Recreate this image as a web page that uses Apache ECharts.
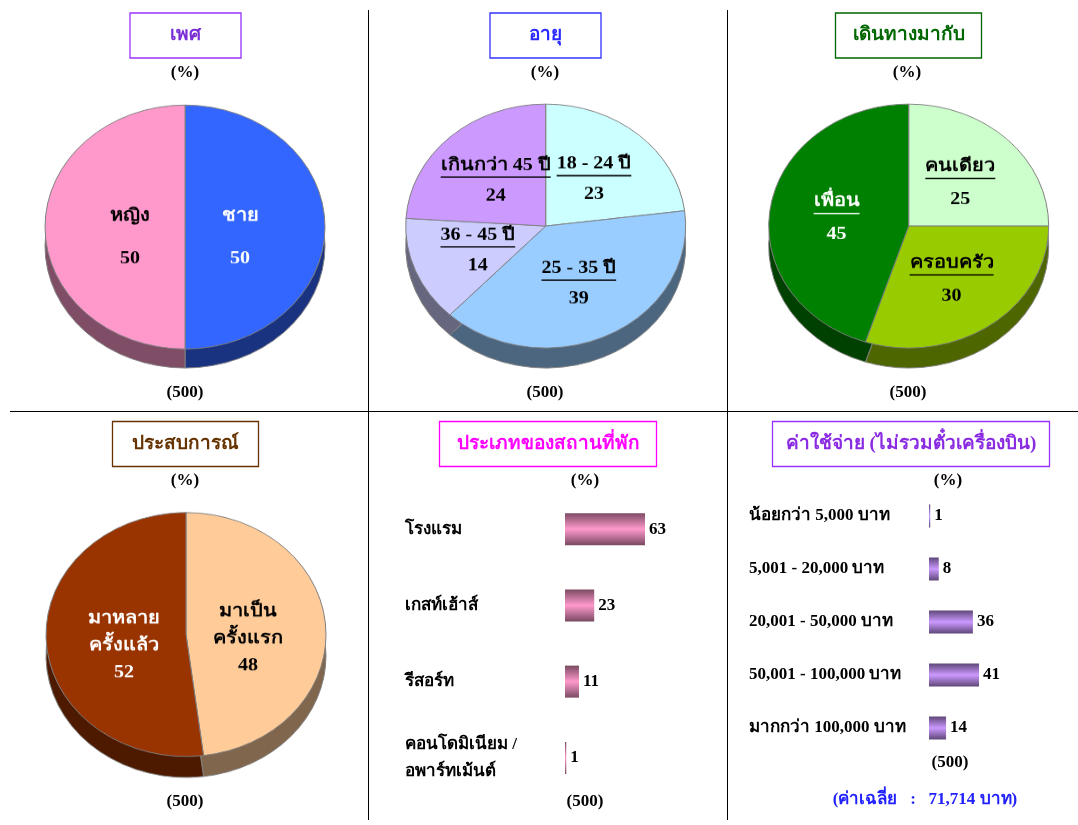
<!DOCTYPE html>
<html><head><meta charset="utf-8">
<script src="https://cdn.jsdelivr.net/npm/echarts@6/dist/echarts.min.js"></script>
<style>
html,body{margin:0;padding:0;background:#fff;}
#main{position:absolute;left:0;top:0;width:1078px;height:825px;}
.pie{position:absolute;transform:scaleY(0.871);transform-origin:0 0;}
</style></head><body>
<div id="main"></div>
<div id="p1" class="pie" style="left:0px;top:90px;width:368px;height:340px"></div>
<div id="p2" class="pie" style="left:370px;top:90px;width:357px;height:340px"></div>
<div id="p3" class="pie" style="left:730px;top:90px;width:348px;height:340px"></div>
<div id="p4" class="pie" style="left:0px;top:497px;width:368px;height:340px"></div>
<script>
// ---------- data ----------
const sexNames = ['ชาย', 'หญิง'];
const sexValues = [50, 50];
const ageNames = ['18 - 24 ปี', '25 - 35 ปี', '36 - 45 ปี', 'เกินกว่า 45 ปี'];
const ageValues = [23, 39, 14, 24];
const travelNames = ['คนเดียว', 'ครอบครัว', 'เพื่อน'];
const travelValues = [25, 30, 45];
const expNames = ['มาเป็น\nครั้งแรก', 'มาหลาย\nครั้งแล้ว'];
const expValues = [48, 52];
const accomNames = ['โรงแรม', 'เกสท์เฮ้าส์', 'รีสอร์ท', 'คอนโดมิเนียม /\nอพาร์ทเม้นต์'];
const accomValues = [63, 23, 11, 1];
const costNames = ['น้อยกว่า 5,000 บาท', '5,001 - 20,000 บาท', '20,001 - 50,000 บาท', '50,001 - 100,000 บาท', 'มากกว่า 100,000 บาท'];
const costValues = [1, 8, 36, 41, 14];
const panelTitles = ['เพศ', 'อายุ', 'เดินทางมากับ', 'ประสบการณ์', 'ประเภทของสถานที่พัก', 'ค่าใช้จ่าย (ไม่รวมตั๋วเครื่องบิน)'];
const unitLabel = '(%)';
const sampleLabel = '(500)';
const averageLabel = '(ค่าเฉลี่ย   :   71,714 บาท)';

// ---------- styles ----------
const FONT = '"Liberation Serif", "Times New Roman", serif';
const S = 0.871;
const mctx = document.createElement('canvas').getContext('2d');
function tw(text, size) { mctx.font = 'bold ' + size + 'px ' + FONT; return mctx.measureText(text).width; }

function pieChart(id, cx, cyPage, top, names, values, topColors, sideColors, textColors, cfg) {
  const chart = echarts.init(document.getElementById(id), null, {renderer: 'canvas'});
  const cy = (cyPage - top) / S;
  const depth = cfg.depth / S;
  const R = 140;
  const fs = 20;
  const common = {type: 'pie', silent: true, startAngle: 90, clockwise: true,
    labelLine: {show: false}, emphasis: {disabled: true}};
  const sideData = names.map((n, i) => ({name: n, value: values[i], itemStyle: {color: sideColors[i]}}));
  const topData = names.map((n, i) => ({name: n, value: values[i], itemStyle: {color: topColors[i]}}));
  const labelData = names.map((n, i) => {
    const rich = {
      p: {fontSize: 4, lineHeight: cfg.pad},
      n: {fontSize: fs, fontWeight: 'bold', fontFamily: FONT, lineHeight: cfg.nLH, align: 'center'},
      u: {width: tw(n, fs), height: 1.6, backgroundColor: textColors[i], lineHeight: 3},
      v: {fontSize: fs, fontWeight: 'bold', fontFamily: FONT, lineHeight: cfg.vLH, align: 'center'}
    };
    return {name: n, value: values[i], label: {color: textColors[i], rich: rich}};
  });
  chart.setOption({
    backgroundColor: 'transparent',
    animation: false,
    series: [
      Object.assign({z: 1, center: [cx, cy + depth], radius: [0, R], data: sideData,
        itemStyle: {borderColor: '#808080', borderWidth: 1}, label: {show: false}}, common),
      Object.assign({z: 2, center: [cx, cy], radius: [0, R], data: topData,
        itemStyle: {borderColor: '#808080', borderWidth: 1}, label: {show: false}}, common),
      Object.assign({z: 3, center: [cx, cy], radius: [0, cfg.labelR], data: labelData,
        itemStyle: {color: 'rgba(0,0,0,0)', borderWidth: 0},
        label: {show: true, position: 'inside', fontFamily: FONT, fontWeight: 'bold', fontSize: fs,
          formatter: cfg.underline ? '{p| }\n{n|{b}}\n{u| }\n{v|{c}}' : '{p| }\n{n|{b}}\n{v|{c}}'}}, common)
    ]
  });
}

pieChart('p1', 185, 227, 90, sexNames, sexValues,
  ['#3366FF', '#FF99CC'], ['#1A3380', '#804D66'], ['#FFFFFF', '#000000'],
  {depth: 19, underline: false, nLH: 24, vLH: 74, pad: 50, labelR: 104});
pieChart('p2', 175.7, 226, 90, ageNames, ageValues,
  ['#CCFFFF', '#99CCFF', '#CCCCFF', '#CC99FF'], ['#668080', '#4D6680', '#66667F', '#664D80'], ['#000', '#000', '#000', '#000'],
  {depth: 20, underline: true, nLH: 24, vLH: 40, pad: 10, labelR: 140});
pieChart('p3', 178.7, 226, 90, travelNames, travelValues,
  ['#CCFFCC', '#99CC00', '#008000'], ['#668066', '#4D6600', '#004000'], ['#000', '#000', '#FFF'],
  {depth: 20, underline: true, nLH: 24, vLH: 46, pad: 16, labelR: 140});
pieChart('p4', 186, 634.5, 497, expNames, expValues,
  ['#FFCC99', '#993300'], ['#80664D', '#4D1A00'], ['#000', '#FFF'],
  {depth: 21, underline: false, nLH: 31, vLH: 31, pad: 18, labelR: 118});

// ---------- main: frames, titles, bars ----------
const main = echarts.init(document.getElementById('main'));
const gradPink = new echarts.graphic.LinearGradient(0, 0, 0, 1, [
  {offset: 0, color: '#7A4A62'}, {offset: 0.5, color: '#FF99CC'}, {offset: 1, color: '#7A4A62'}]);
const gradPurple = new echarts.graphic.LinearGradient(0, 0, 0, 1, [
  {offset: 0, color: '#5E4778'}, {offset: 0.5, color: '#CC99FF'}, {offset: 1, color: '#5E4778'}]);

const titleBoxes = [
  {x: 130, y: 13, w: 111, h: 45, stroke: '#9933FF', fill: '#7A2FD6'},
  {x: 490, y: 13, w: 111, h: 45, stroke: '#3333FF', fill: '#2B2BFF'},
  {x: 835.5, y: 13, w: 146, h: 45, stroke: '#006600', fill: '#006600'},
  {x: 112.5, y: 421.5, w: 146, h: 45, stroke: '#663300', fill: '#663300'},
  {x: 439.5, y: 421.5, w: 217, h: 45, stroke: '#FF00FF', fill: '#FF00FF'},
  {x: 772.5, y: 421.5, w: 277, h: 45, stroke: '#9933FF', fill: '#8A2BE2'}
];
const graphics = [];
function line(x1, y1, x2, y2) {
  graphics.push({type: 'line', silent: true, shape: {x1, y1, x2, y2}, style: {stroke: '#000', lineWidth: 1}});
}
line(368.5, 10, 368.5, 820);
line(727.5, 10, 727.5, 820);
line(10, 411.5, 1078, 411.5);
titleBoxes.forEach((b, i) => {
  graphics.push({type: 'rect', silent: true, shape: {x: b.x, y: b.y, width: b.w, height: b.h},
    style: {fill: '#fff', stroke: b.stroke, lineWidth: 1.3}});
  graphics.push({type: 'text', silent: true, x: b.x + b.w / 2, y: b.y + b.h / 2,
    style: {text: panelTitles[i], fill: b.fill, fontFamily: FONT, fontWeight: 'bold', fontSize: 19,
      align: 'center', verticalAlign: 'middle'}});
});
function txt(t, x, y, color, size) {
  graphics.push({type: 'text', silent: true, x, y,
    style: {text: t, fill: color || '#000', fontFamily: FONT, fontWeight: 'bold', fontSize: size || 17,
      align: 'center', verticalAlign: 'middle'}});
}
[[185, 73], [545, 73], [907, 73], [185, 481], [585, 481], [948, 481]].forEach(p => txt(unitLabel, p[0], p[1]));
[[185, 393], [545, 393], [908, 393], [185, 802], [585, 802], [950, 763]].forEach(p => txt(sampleLabel, p[0], p[1]));
txt(averageLabel, 925, 800, '#2222FF', 17);

const axisText = {color: '#000', fontWeight: 'bold', fontSize: 17, fontFamily: FONT};
const barLabel = {show: true, position: 'right', distance: 4, color: '#000', fontWeight: 'bold', fontSize: 17, fontFamily: FONT};
main.setOption({
  backgroundColor: '#fff',
  animation: false,
  grid: [
    {left: 565, top: 491, width: 127, height: 305, outerBoundsMode: 'none', containLabel: false},
    {left: 929, top: 489.5, width: 122, height: 265, outerBoundsMode: 'none', containLabel: false}
  ],
  xAxis: [
    {gridIndex: 0, type: 'value', min: 0, max: 100, show: false},
    {gridIndex: 1, type: 'value', min: 0, max: 100, show: false}
  ],
  yAxis: [
    {gridIndex: 0, type: 'category', data: accomNames, inverse: true,
     axisLine: {show: false}, axisTick: {show: false}, splitLine: {show: false},
     axisLabel: Object.assign({align: 'left', margin: 160, lineHeight: 27}, axisText)},
    {gridIndex: 1, type: 'category', data: costNames, inverse: true,
     axisLine: {show: false}, axisTick: {show: false}, splitLine: {show: false},
     axisLabel: Object.assign({align: 'left', margin: 180}, axisText)}
  ],
  series: [
    {type: 'bar', xAxisIndex: 0, yAxisIndex: 0, data: accomValues, barWidth: 32, silent: true,
     itemStyle: {color: gradPink}, label: barLabel},
    {type: 'bar', xAxisIndex: 1, yAxisIndex: 1, data: costValues, barWidth: 23, silent: true,
     itemStyle: {color: gradPurple}, label: barLabel}
  ],
  graphic: graphics
});
</script>
</body></html>
